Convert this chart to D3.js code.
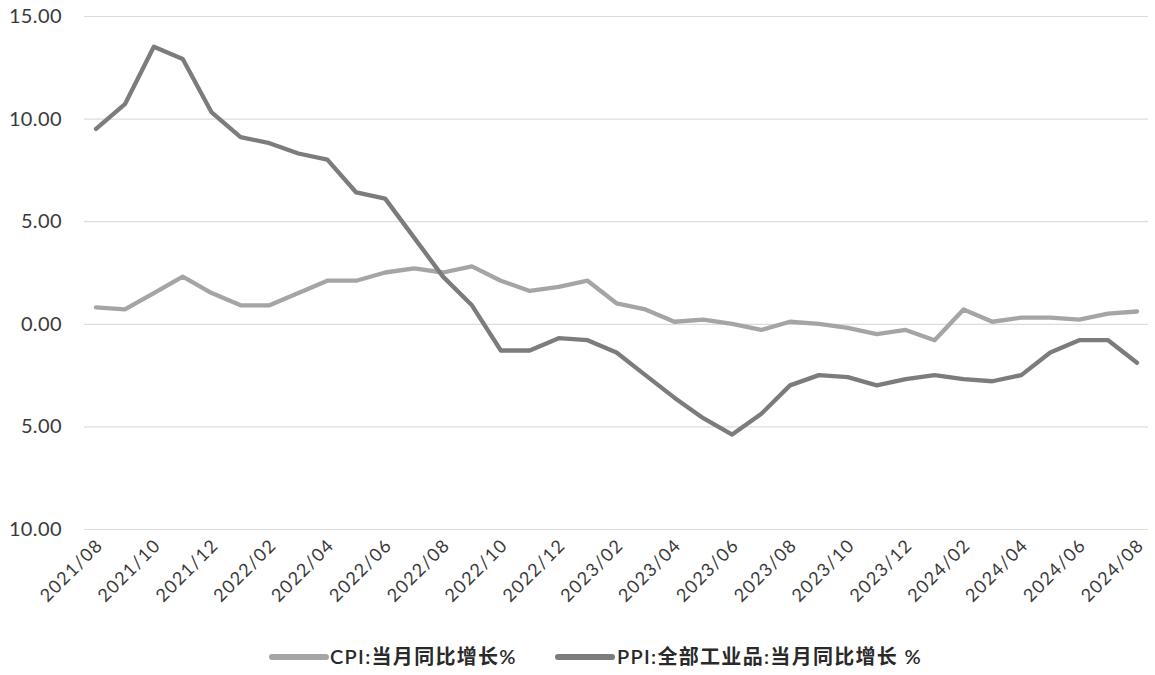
<!DOCTYPE html>
<html>
<head>
<meta charset="utf-8">
<script src="https://cdn.jsdelivr.net/npm/d3@7/dist/d3.min.js"></script>
<style>
  html, body { margin: 0; padding: 0; background: #ffffff; }
  svg { display: block; }
</style>
</head>
<body>
<svg id="chart" width="1155" height="675"></svg>
<script>
const months = ["2021/08","2021/09","2021/10","2021/11","2021/12",
  "2022/01","2022/02","2022/03","2022/04","2022/05","2022/06","2022/07","2022/08","2022/09","2022/10","2022/11","2022/12",
  "2023/01","2023/02","2023/03","2023/04","2023/05","2023/06","2023/07","2023/08","2023/09","2023/10","2023/11","2023/12",
  "2024/01","2024/02","2024/03","2024/04","2024/05","2024/06","2024/07","2024/08"];
const cpi = [0.8,0.7,1.5,2.3,1.5,0.9,0.9,1.5,2.1,2.1,2.5,2.7,2.5,2.8,2.1,1.6,1.8,2.1,1.0,0.7,0.1,0.2,0.0,-0.3,0.1,0.0,-0.2,-0.5,-0.3,-0.8,0.7,0.1,0.3,0.3,0.2,0.5,0.6];
const ppi = [9.5,10.7,13.5,12.9,10.3,9.1,8.8,8.3,8.0,6.4,6.1,4.2,2.3,0.9,-1.3,-1.3,-0.7,-0.8,-1.4,-2.5,-3.6,-4.6,-5.4,-4.4,-3.0,-2.5,-2.6,-3.0,-2.7,-2.5,-2.7,-2.8,-2.5,-1.4,-0.8,-0.8,-1.9];
const yTicks = [15, 10, 5, 0, -5, -10];
const yTickLabels = ["15.00", "10.00", "5.00", "0.00", "5.00", "10.00"];
const xTickLabels = months.filter((m, i) => i % 2 === 0);
const seriesNames = ["CPI:当月同比增长%", "PPI:全部工业品:当月同比增长 %"];
const seriesColors = ["#a5a5a5", "#7c7c7c"];

const svg = d3.select("#chart");
const x = d3.scalePoint().domain(months).range([96, 1137]);
const y = d3.scaleLinear().domain([-10, 15]).range([529, 16]);

// gridlines
const grid = d3.axisLeft(y).tickValues(yTicks).tickSize(-(1148 - 84)).tickFormat("");
svg.append("g").attr("transform", "translate(84,0)").call(grid)
  .call(g => g.select(".domain").remove())
  .call(g => g.selectAll("line").attr("stroke", "#dcdcdc").attr("stroke-width", 1.2));

// y axis labels
const yAxis = d3.axisLeft(y).tickValues(yTicks).tickSize(0).tickPadding(0)
  .tickFormat((d, i) => yTickLabels[i]);
svg.append("g").attr("transform", "translate(62,0)").call(yAxis)
  .call(g => g.select(".domain").remove())
  .call(g => g.selectAll("text")
    .attr("font-family", "Lato, 'Open Sans', sans-serif")
    .attr("font-size", 20)
    .attr("letter-spacing", 0.4)
    .attr("fill", "#3a3a3a"));

// x axis labels
const xAxis = d3.axisBottom(x).tickValues(xTickLabels).tickSize(0).tickPadding(0);
svg.append("g").attr("transform", "translate(0,540)").call(xAxis)
  .call(g => g.select(".domain").remove())
  .call(g => g.selectAll("text")
    .attr("font-family", "Lato, 'Open Sans', sans-serif")
    .attr("font-size", 18)
    .attr("letter-spacing", 1.3)
    .attr("fill", "#3a3a3a")
    .attr("text-anchor", "end")
    .attr("dy", "0.35em")
    .attr("transform", "translate(3,2) rotate(-45)"));

// lines
const line = d3.line().x((d, i) => x(months[i])).y(d => y(d));
[cpi, ppi].forEach((s, k) => {
  svg.append("path").datum(s)
    .attr("d", line)
    .attr("fill", "none")
    .attr("stroke", seriesColors[k])
    .attr("stroke-width", 4.3)
    .attr("stroke-linejoin", "round")
    .attr("stroke-linecap", "round");
});

// legend
const legendItems = [{x1: 272, x2: 326, tx: 330}, {x1: 558, x2: 612, tx: 617}];
legendItems.forEach((it, k) => {
  svg.append("line")
    .attr("x1", it.x1).attr("x2", it.x2).attr("y1", 657).attr("y2", 657)
    .attr("stroke", seriesColors[k]).attr("stroke-width", 6).attr("stroke-linecap", "round");
  svg.append("text")
    .attr("x", it.tx).attr("y", 657).attr("dy", "0.35em")
    .attr("font-family", "Lato, 'Noto Sans CJK SC', sans-serif")
    .attr("font-size", 20)
    .attr("letter-spacing", 1.3)
    .attr("font-weight", 600)
    .attr("fill", "#2a2a2a")
    .text(seriesNames[k]);
});
</script>
</body>
</html>
